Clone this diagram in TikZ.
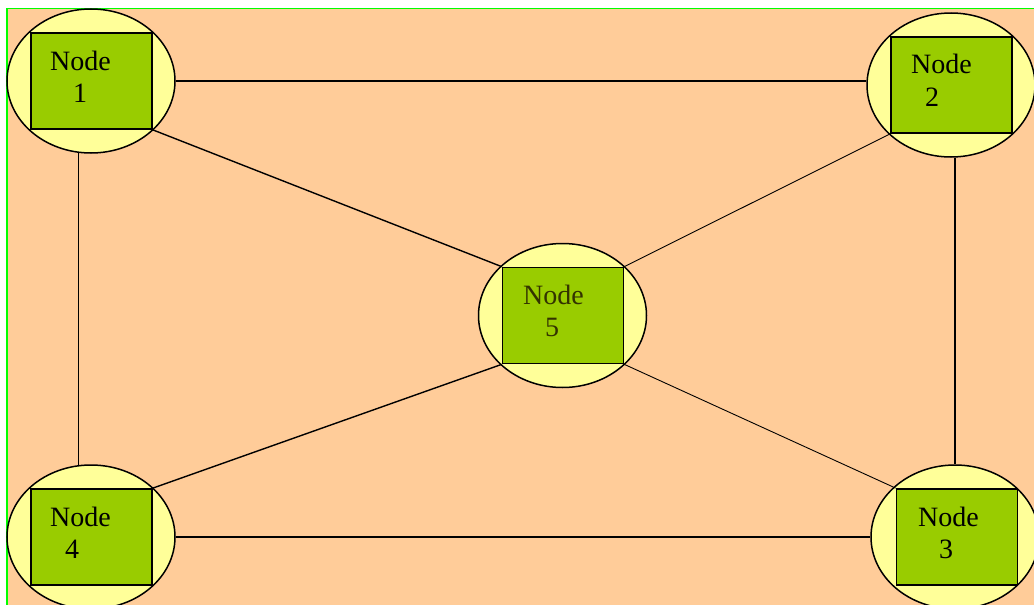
\documentclass[tikz,border=0pt]{standalone}
\usepackage{fontspec}
\setmainfont{Liberation Serif}
\usetikzlibrary{shapes.geometric}
\definecolor{peach}{HTML}{FFCC99}
\definecolor{paleyellow}{HTML}{FFFF99}
\definecolor{leafgreen}{HTML}{99CC00}
\definecolor{framegreen}{HTML}{00FF00}
\definecolor{darkolive}{HTML}{333300}
\tikzset{
  halo/.style={ellipse, draw=black, line width=1.5pt, fill=paleyellow,
    minimum width=168pt, minimum height=144pt, inner sep=0pt},
  box/.style={rectangle, draw=black, line width=1.8pt, fill=leafgreen,
    minimum width=121pt, minimum height=96pt, inner sep=0pt},
  lbl/.style={anchor=base west, inner sep=0pt, font=\fontsize{28}{32}\selectfont},
  link/.style={draw=black, line width=1.4pt},
  thinlink/.style={draw=black, line width=0.9pt},
}
\begin{document}
\begin{tikzpicture}[x=1pt,y=-1pt]
  \useasboundingbox (0,0) rectangle (1034,605);
  \clip (0,0) rectangle (1034,605);
  \fill[white] (0,0) rectangle (1034,605);
  \filldraw[fill=peach, draw=framegreen, line width=1.5pt] (7,8.5) rectangle (1045,615);

  % ellipses
  \node[halo] (e1) at (91,81) {};
  \node[halo] (e2) at (951,85) {};
  \node[halo] (e3) at (955,537) {};
  \node[halo] (e4) at (91,537) {};
  \node[halo] (e5) at (562.5,315.5) {};

  % green boxes
  \node[box] (r1) at (91.5,81) {};
  \node[box] (r2) at (951.5,85) {};
  \node[box] (r3) at (957,537) {};
  \node[box] (r4) at (91.5,537) {};
  \node[box] (r5) at (563,315.5) {};

  % labels
  \node[lbl] (n1) at (50,70) {Node};
  \node[lbl] (d1) at (73,102) {1};
  \node[lbl] (n2) at (911,73) {Node};
  \node[lbl] (d2) at (925,106) {2};
  \node[lbl] (n3) at (918,526) {Node};
  \node[lbl] (d3) at (939,558) {3};
  \node[lbl] (n4) at (50,526) {Node};
  \node[lbl] (d4) at (65,558) {4};
  \node[lbl, text=darkolive] (n5) at (523,304) {Node};
  \node[lbl, text=darkolive] (d5) at (545,336) {5};

  % outer ring of connections
  \draw[link] (e1.east) -- (e1.east -| e2.west);
  \draw[link] (e4.east) -- (e3.west);
  \draw[link] (e1.260) -- (e4.100);
  \draw[link] (e2.south -| e3.north) -- (e3.north);

  % spokes to the centre
  \draw[link] (r1.south east) -- (r5.north west);
  \draw[thinlink] (r2.south west) -- (r5.north east);
  \draw[link] (r5.south west) -- (r4.north east);
  \draw[thinlink] (r5.south east) -- (r3.north west);
\end{tikzpicture}
\end{document}
